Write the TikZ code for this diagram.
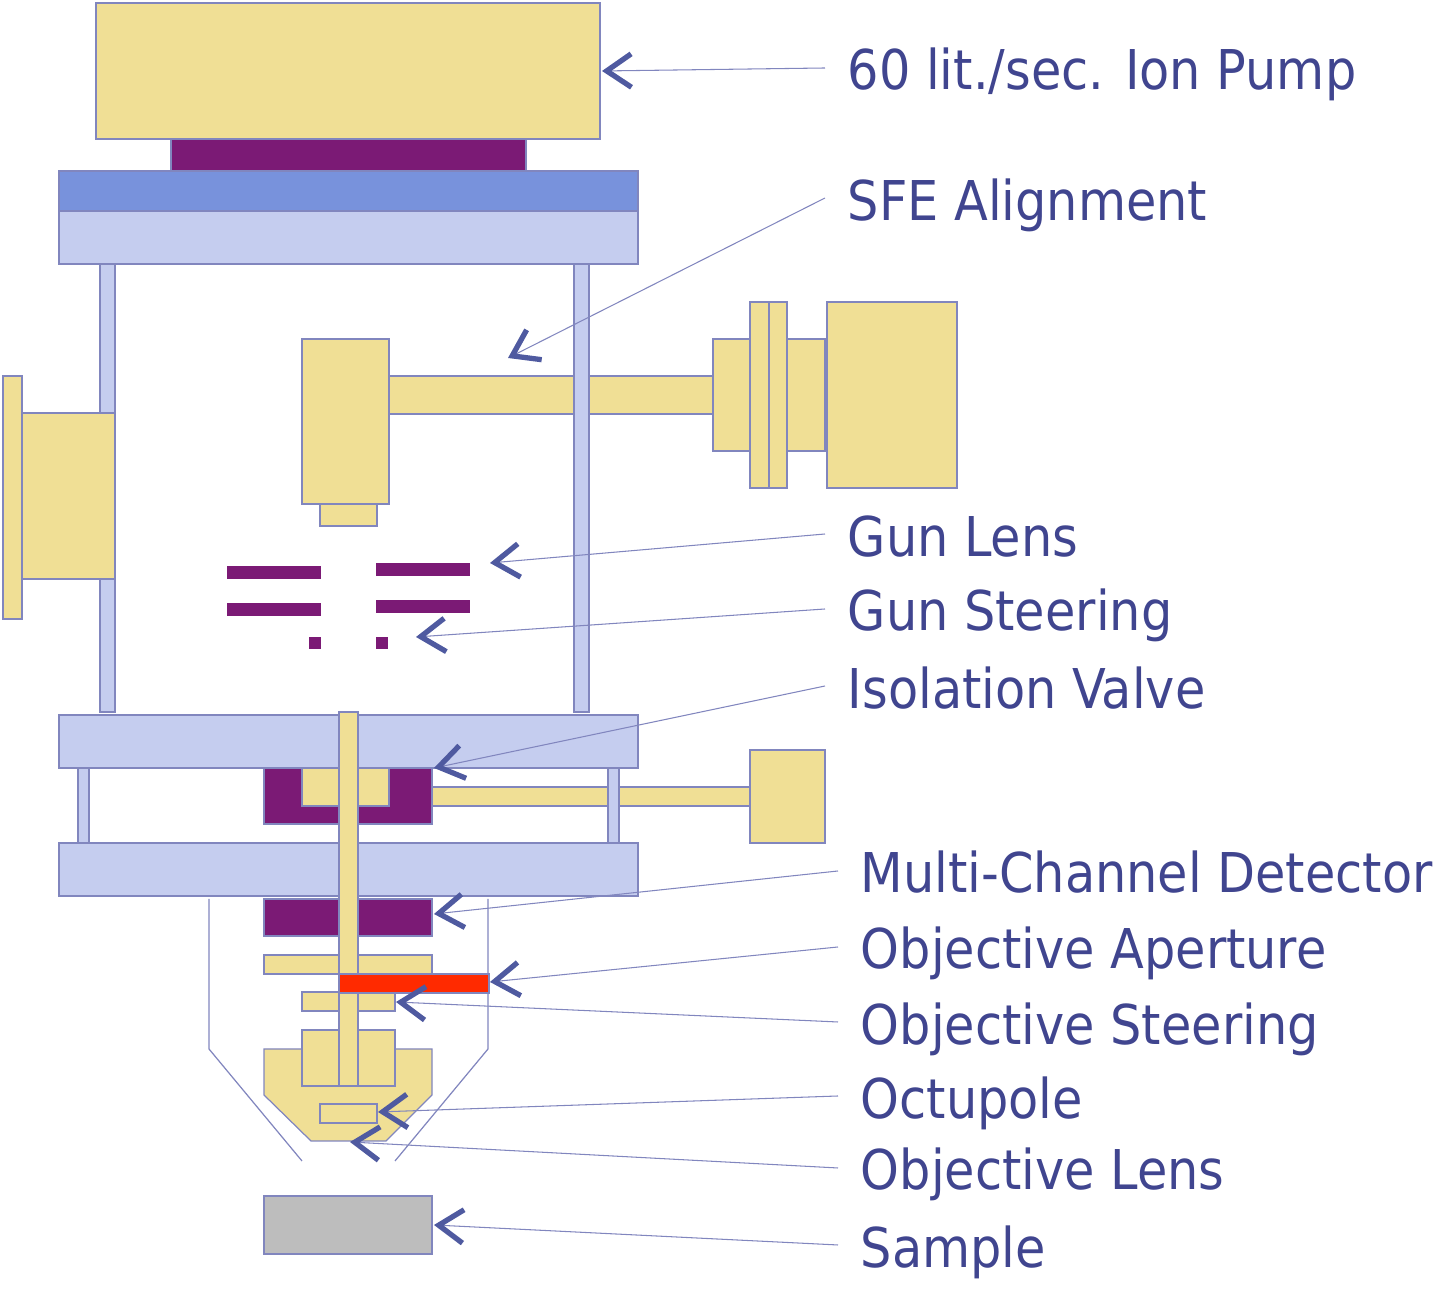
\documentclass[tikz,border=0pt]{standalone}
\usepackage{fontspec}
\setmainfont{DejaVu Sans Condensed}
\usetikzlibrary{arrows.meta}
\definecolor{partyellow}{HTML}{F0DF95}
\definecolor{partpurple}{HTML}{7B1A75}
\definecolor{partblue}{HTML}{7892DC}
\definecolor{partlight}{HTML}{C5CDEF}
\definecolor{partred}{HTML}{FF2A00}
\definecolor{partgray}{HTML}{BDBDBD}
\definecolor{edgecol}{HTML}{8186BE}
\definecolor{textcol}{HTML}{40458F}
\definecolor{headcol}{HTML}{4F5AA0}
\tikzset{
  part/.style={draw=edgecol, line width=0.35pt},
  lbl/.style={anchor=west, inner xsep=6.3pt, inner ysep=0pt, text height=0.44cm, text depth=0cm,
    text=textcol, font=\fontsize{15.6pt}{15.6pt}\selectfont},
  lead/.style={draw=edgecol, line width=0.3pt,
    {Straight Barb[length=7pt, width=9.5pt, line width=1.5pt, color=headcol]}-},
}
\begin{document}
\begin{tikzpicture}[x=0.01cm, y=-0.01cm]
    \useasboundingbox (0,0) rectangle (1456,1292);

    % Ion pump and top flange
    \draw[part, fill=partyellow] (96,3) rectangle (600,139);
    \draw[part, fill=partpurple] (171,139) rectangle (526,171);
    \draw[part, fill=partblue] (59,171) rectangle (638,211);
    \draw[part, fill=partlight] (59,211) rectangle (638,264);

    % Gun with its shaft
    \foreach \xa/\ya/\xb/\yb in {302/339/389/504, 320/504/377/526, 389/376/713/414,
        713/339/750/451, 750/302/769/488, 769/302/787/488, 787/339/825/451, 827/302/957/488} {
        \draw[part, fill=partyellow] (\xa,\ya) rectangle (\xb,\yb);
    }

    % Chamber posts
    \foreach \xa in {100,574} {
        \draw[part, fill=partlight] (\xa,264) rectangle (\xa+15,712);
    }

    % Side port
    \draw[part, fill=partyellow] (3,376) rectangle (22,619);
    \draw[part, fill=partyellow] (22,413) rectangle (115,579);

    % Gun lens and steering
    \foreach \xa/\ya/\xb/\yb in {227/566/321/579, 376/563/470/576, 227/603/321/616,
        376/600/470/613, 309/637/321/649, 376/637/388/649} {
        \fill[partpurple] (\xa,\ya) rectangle (\xb,\yb);
    }

    % Valve section
    \foreach \ya in {715,843} {
        \draw[part, fill=partlight] (59,\ya) rectangle (638,\ya+53);
    }
    \draw[part, fill=partpurple] (264,768) rectangle (432,824);
    \draw[part, fill=partyellow] (302,768) rectangle (389,806);
    \draw[part, fill=partyellow] (432,787) rectangle (750,806);
    \draw[part, fill=partyellow] (750,750) rectangle (825,843);
    \foreach \xa in {78,608} {
        \draw[part, fill=partlight] (\xa,768) rectangle (\xa+11,843);
    }

    % Objective column
    \draw[part] (209,899) -- (209,1049) -- (302,1161);
    \draw[part] (488,899) -- (488,1049) -- (395,1161);
    \draw[part, fill=partpurple] (264,899) rectangle (432,936);
    \draw[part, fill=partyellow] (264,955) rectangle (432,974);
    \draw[part, fill=partyellow] (302,992) rectangle (395,1011);
    \draw[part, fill=partyellow] (264,1049) -- (432,1049) -- (432,1095) -- (386,1141)
        -- (311,1141) -- (264,1095) -- cycle;
    \draw[part, fill=partyellow] (302,1030) rectangle (395,1086);
    \draw[part, fill=partyellow] (339,712) rectangle (358,1086);
    \draw[part, fill=partred] (339,974) rectangle (489,993);
    \draw[part, fill=partyellow] (320,1104) rectangle (377,1123);
    \draw[part, fill=partgray] (264,1196) rectangle (432,1254);

    % Labels
    \node[lbl] (pumplbl) at (825,68) {60 lit./sec. Ion Pump};
    \node[lbl] (sfelbl) at (825,198) {SFE Alignment};
    \node[lbl] (lenslbl) at (825,534) {Gun Lens};
    \node[lbl] (steerlbl) at (825,609) {Gun Steering};
    \node[lbl] (valvelbl) at (825,686) {Isolation Valve};
    \node[lbl] (detlbl) at (838,871) {Multi-Channel Detector};
    \node[lbl] (aperlbl) at (838,947) {Objective Aperture};
    \node[lbl] (objsteerlbl) at (838,1022) {Objective Steering};
    \node[lbl] (octlbl) at (838,1096) {Octupole};
    \node[lbl] (objlenslbl) at (838,1168) {Objective Lens};
    \node[lbl] (samplelbl) at (838,1245) {Sample};

    % Arrow ends
    \coordinate (pumpend) at (602,71);
    \coordinate (sfeend) at (508,358);
    \coordinate (lensend) at (490,563);
    \coordinate (steerend) at (416,637);
    \coordinate (valveend) at (434,768);
    \coordinate (detend) at (434,914);
    \coordinate (aperend) at (490,982);
    \coordinate (objsteerend) at (396,1002);
    \coordinate (octend) at (378,1112);
    \coordinate (objlensend) at (350,1142);
    \coordinate (sampleend) at (434,1225);

    \foreach \a/\b in {pumpend/pumplbl, sfeend/sfelbl, lensend/lenslbl, steerend/steerlbl,
        valveend/valvelbl, detend/detlbl, aperend/aperlbl, objsteerend/objsteerlbl,
        octend/octlbl, objlensend/objlenslbl, sampleend/samplelbl} {
        \draw[lead] (\a) -- (\b.west);
    }
\end{tikzpicture}
\end{document}
